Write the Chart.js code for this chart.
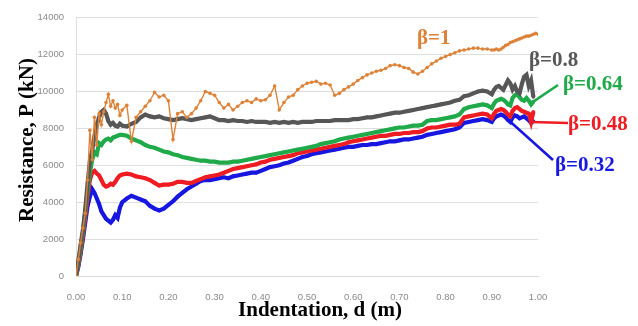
<!DOCTYPE html>
<html>
<head>
<meta charset="utf-8">
<script src="https://cdn.jsdelivr.net/npm/chart.js@4/dist/chart.umd.min.js"></script>
<style>
  html, body { margin: 0; padding: 0; background: #ffffff; }
  #wrap { width: 638px; height: 326px; position: relative; }
</style>
</head>
<body>
<div id="wrap"><canvas id="chart" width="638" height="326"></canvas></div>
<script>
// Indentation d (m) at which resistance was recorded
const indentation = [
  0, 0.005, 0.01, 0.015, 0.02, 0.025, 0.03, 0.035, 0.04, 0.045, 0.05, 0.055, 0.06, 0.065, 0.07, 0.075, 0.08, 0.085, 0.09, 0.095, 0.10,
  0.11, 0.12, 0.13, 0.14, 0.15, 0.16, 0.17, 0.18, 0.19, 0.20,
  0.21, 0.22, 0.23, 0.24, 0.25, 0.26, 0.27, 0.28, 0.29, 0.30,
  0.31, 0.32, 0.33, 0.34, 0.35, 0.36, 0.37, 0.38, 0.39, 0.40,
  0.41, 0.42, 0.43, 0.44, 0.45, 0.46, 0.47, 0.48, 0.49, 0.50,
  0.51, 0.52, 0.53, 0.54, 0.55, 0.56, 0.57, 0.58, 0.59, 0.60,
  0.61, 0.62, 0.63, 0.64, 0.65, 0.66, 0.67, 0.68, 0.69, 0.70,
  0.71, 0.72, 0.73, 0.74, 0.75, 0.76, 0.77, 0.78, 0.79, 0.80,
  0.81, 0.82, 0.83, 0.84, 0.85, 0.86, 0.87, 0.88, 0.89, 0.90,
  0.905, 0.91, 0.915, 0.92, 0.925, 0.93, 0.935, 0.94, 0.945, 0.95,
  0.955, 0.96, 0.965, 0.97, 0.975, 0.98, 0.985, 0.99, 0.995, 1.00
];

// Resistance P (kN) for each stiffness ratio beta
const beta100 = [
  0, 900, 1800, 2600, 3400, 5200, 7900, 6300, 8600, 7100, 8800, 8200, 8900, 9400, 9850, 9200, 9500, 9100, 9300, 8700, 9000,
  9250, 7300, 8600, 8900, 9200, 9500, 9950, 9700, 9800, 9500,
  7400, 8800, 8900, 8600, 8800, 9100, 9500, 10000, 9900, 9800,
  9400, 9100, 9300, 9000, 9200, 9400, 9500, 9400, 9600, 9500,
  9550, 9800, 10300, 9000, 9400, 9700, 9800, 10100, 10300, 10450,
  10500, 10550, 10400, 10450, 10350, 9800, 9900, 10100, 10250, 10400,
  10600, 10750, 10900, 11000, 11100, 11150, 11250, 11400, 11450, 11400,
  11300, 11250, 11050, 10950, 11100, 11300, 11500, 11650, 11800, 11900,
  12000, 12100, 12200, 12250, 12300, 12350, 12350, 12300, 12300, 12250,
  12250, 12300, 12250, 12300, 12400, 12500, 12550, 12650, 12700, 12750,
  12800, 12850, 12900, 12950, 13000, 13000, 13050, 13100, 13150, 13100
];
const beta080 = [
  0, 800, 1700, 2500, 3600, 5000, 6200, 6800, 7600, 8200, 8600, 8900, 9000, 8800, 8400, 8200, 8300, 8150, 8100, 8250, 8150,
  8100, 8250, 8350, 8600, 8750, 8650, 8600, 8650, 8550, 8500,
  8450, 8500, 8550, 8500, 8450, 8500, 8550, 8600, 8650, 8550,
  8450, 8450, 8400, 8450, 8400, 8400, 8350, 8400, 8350, 8350,
  8350, 8300, 8350, 8300, 8350, 8300, 8350, 8300, 8350, 8350,
  8350, 8400, 8400, 8400, 8400, 8450, 8450, 8450, 8450, 8500,
  8500, 8550, 8600, 8600, 8650, 8700, 8750, 8800, 8850, 8850,
  8900, 8950, 9000, 9050, 9100, 9150, 9200, 9250, 9300, 9350,
  9400, 9500, 9550, 9750, 9800, 9900, 10000, 10050, 10000, 9850,
  10100, 10250, 10300, 10200, 10100, 10350, 10600, 10450, 10100, 10300,
  10000, 9900, 10400, 10800, 10900, 10300, 10600, 9700, null, null
];
const beta064 = [
  0, 700, 1500, 2400, 3500, 4600, 5600, 6300, 6700, 6600, 7200, 7100, 7300, 7400, 7450, 7350, 7500, 7550, 7600, 7650, 7650,
  7600, 7450, 7350, 7250, 7100, 7000, 6950, 6850, 6750, 6700,
  6600, 6550, 6450, 6400, 6350, 6300, 6250, 6250, 6200, 6200,
  6150, 6150, 6150, 6200, 6200, 6250, 6300, 6350, 6400, 6450,
  6500, 6550, 6600, 6650, 6700, 6750, 6800, 6850, 6900, 6950,
  7000, 7050, 7150, 7200, 7250, 7300, 7400, 7450, 7500, 7550,
  7600, 7650, 7700, 7750, 7800, 7850, 7900, 7950, 8000, 8050,
  8050, 8100, 8150, 8150, 8200, 8400, 8450, 8450, 8500, 8550,
  8600, 8650, 8750, 9050, 9150, 9200, 9250, 9300, 9250, 9100,
  9350, 9500, 9550, 9600, 9550, 9450, 9300, 9250, 9650, 9800,
  9850, 9700, 9550, 9500, 9650, 9500, 9300, 9450, null, null
];
const beta048 = [
  0, 600, 1300, 2200, 3200, 4300, 5200, 5600, 5700, 5550, 5450, 5200, 4950, 4850, 4900, 5000, 4950, 5100, 5300, 5450, 5500,
  5550, 5500, 5400, 5350, 5300, 5200, 5050, 4900, 4950, 4950,
  5000, 5100, 5100, 5050, 5050, 5150, 5250, 5350, 5400, 5450,
  5500, 5600, 5700, 5800, 5850, 5900, 5950, 6000, 6050, 6150,
  6200, 6300, 6350, 6400, 6450, 6500, 6550, 6650, 6700, 6750,
  6800, 6850, 6900, 6950, 7000, 7050, 7100, 7150, 7250, 7300,
  7350, 7400, 7450, 7500, 7550, 7600, 7600, 7650, 7700, 7700,
  7750, 7750, 7800, 7800, 7850, 8000, 8050, 8050, 8100, 8150,
  8200, 8200, 8250, 8600, 8650, 8700, 8750, 8800, 8750, 8550,
  8800, 8950, 9000, 9050, 9000, 8900, 8750, 8650, 8950, 9100,
  9150, 9050, 8950, 8900, 8850, 8800, 8350, 8900, null, null
];
const beta032 = [
  0, 500, 1200, 2000, 2900, 3800, 4300, 4700, 4500, 4200, 3900, 3500, 3300, 3100, 3000, 2900, 3050, 3300, 3150, 3700, 4000,
  4200, 4350, 4250, 4150, 4050, 3800, 3650, 3550, 3650, 3850,
  4050, 4300, 4500, 4700, 4850, 5000, 5150, 5200, 5200, 5250,
  5300, 5350, 5300, 5400, 5450, 5500, 5550, 5600, 5600, 5700,
  5800, 5900, 5950, 6000, 6100, 6150, 6250, 6350, 6450, 6500,
  6600, 6650, 6700, 6750, 6800, 6850, 6900, 6950, 7000, 7000,
  7050, 7100, 7100, 7150, 7150, 7200, 7250, 7300, 7300, 7350,
  7400, 7400, 7450, 7500, 7550, 7650, 7700, 7750, 7800, 7850,
  7900, 7950, 8050, 8300, 8350, 8400, 8450, 8500, 8450, 8350,
  8550, 8650, 8700, 8750, 8700, 8600, 8450, 8350, 8600, 8700,
  8650, 8550, 8600, 8650, 8550, 8450, 8300, 8400, null, null
];

// Axis ticks
const yTicks = [0, 2000, 4000, 6000, 8000, 10000, 12000, 14000];
const xTicks = [0, 0.1, 0.2, 0.3, 0.4, 0.5, 0.6, 0.7, 0.8, 0.9, 1.0];

const seriesLabels = ['β=1', 'β=0.8', 'β=0.64', 'β=0.48', 'β=0.32'];
const seriesValues = [beta100, beta080, beta064, beta048, beta032];
const seriesColors = ['#de8238', '#575757', '#20aa4a', '#ee1d23', '#1717e0'];

const toPoints = vals => indentation.map((d, i) => ({ x: d, y: vals[i] }));

const datasets = seriesLabels.map((lab, i) => {
  const thin = i === 0;
  return {
    label: lab,
    data: toPoints(seriesValues[i]),
    borderColor: seriesColors[i],
    backgroundColor: seriesColors[i],
    borderWidth: thin ? 1.4 : 4.2,
    pointRadius: thin ? 1.8 : 1.8,
    pointBorderWidth: 0,
    pointBackgroundColor: seriesColors[i],
    tension: 0,
    spanGaps: false,
    order: i
  };
});

// Curve labels placed to the right of the curve ends, with leader lines
// for the three lower curves (anchored on a point of each series).
const curveLabels = {
  id: 'curveLabels',
  afterDatasetsDraw(chart) {
    const ctx = chart.ctx;
    const xs = chart.scales.x, ys = chart.scales.y;
    const ca = chart.chartArea;
    ctx.save();
    ctx.font = 'bold 21px "Liberation Serif", "Times New Roman", serif';
    ctx.textBaseline = 'alphabetic';
    ctx.textAlign = 'left';
    const place = [
      { s: 0, x: ca.right - 121, y: 44 },
      { s: 1, x: ca.right - 9, y: 66 },
      { s: 2, x: ca.right + 25, y: 90, anchor: 0.99, tip: [ca.right + 20, 85] },
      { s: 3, x: ca.right + 30, y: 130, anchor: 0.985, tip: [ca.right + 30, 123] },
      { s: 4, x: ca.right + 17, y: 171, anchor: 0.925, tip: [ca.right + 15, 160] }
    ];
    place.forEach(p => {
      const col = seriesColors[p.s];
      if (p.anchor !== undefined) {
        const idx = indentation.indexOf(p.anchor);
        const px = xs.getPixelForValue(indentation[idx]);
        const py = ys.getPixelForValue(seriesValues[p.s][idx]);
        ctx.strokeStyle = col;
        ctx.lineWidth = 2.6;
        ctx.beginPath();
        ctx.moveTo(px, py);
        ctx.lineTo(p.tip[0], p.tip[1]);
        ctx.stroke();
      }
      ctx.fillStyle = col;
      ctx.fillText(seriesLabels[p.s], p.x, p.y);
    });

    // axis titles
    ctx.fillStyle = '#000000';
    ctx.font = 'bold 21px "Liberation Serif", "Times New Roman", serif';
    ctx.textAlign = 'center';
    ctx.textBaseline = 'middle';
    ctx.fillText('Indentation, d (m)', 320, 311);
    ctx.translate(28, 140);
    ctx.rotate(-Math.PI / 2);
    ctx.fillText('Resistance, P (kN)', 0, 0);
    ctx.restore();
  }
};

new Chart(document.getElementById('chart'), {
  type: 'line',
  data: { datasets },
  options: {
    responsive: false,
    animation: false,
    layout: { padding: { left: 0, right: 100, top: 14, bottom: 0 } },
    plugins: { legend: { display: false }, tooltip: { enabled: false } },
    scales: {
      x: {
        type: 'linear',
        min: 0, max: 1,
        afterBuildTicks: s => { s.ticks = xTicks.map(v => ({ value: v })); },
        afterFit: s => { s.height = 50; },
        grid: { display: false },
        border: { display: true, color: '#d9d9d9', width: 1 },
        ticks: {
          color: '#8a8a8a',
          font: { family: '"Liberation Sans", Arial, sans-serif', size: 9.5 },
          padding: 8,
          maxRotation: 0,
          callback: v => Number(v).toFixed(2)
        }
      },
      y: {
        min: 0, max: 14000,
        afterBuildTicks: s => { s.ticks = yTicks.map(v => ({ value: v })); },
        afterFit: s => { s.width = 76; },
        grid: { color: '#dedede', lineWidth: 1, drawTicks: false },
        border: { display: true, color: '#dedede', width: 1 },
        ticks: {
          color: '#8a8a8a',
          font: { family: '"Liberation Sans", Arial, sans-serif', size: 9.5 },
          padding: 12,
          callback: v => String(v)
        }
      }
    }
  },
  plugins: [curveLabels]
});
</script>
</body>
</html>
